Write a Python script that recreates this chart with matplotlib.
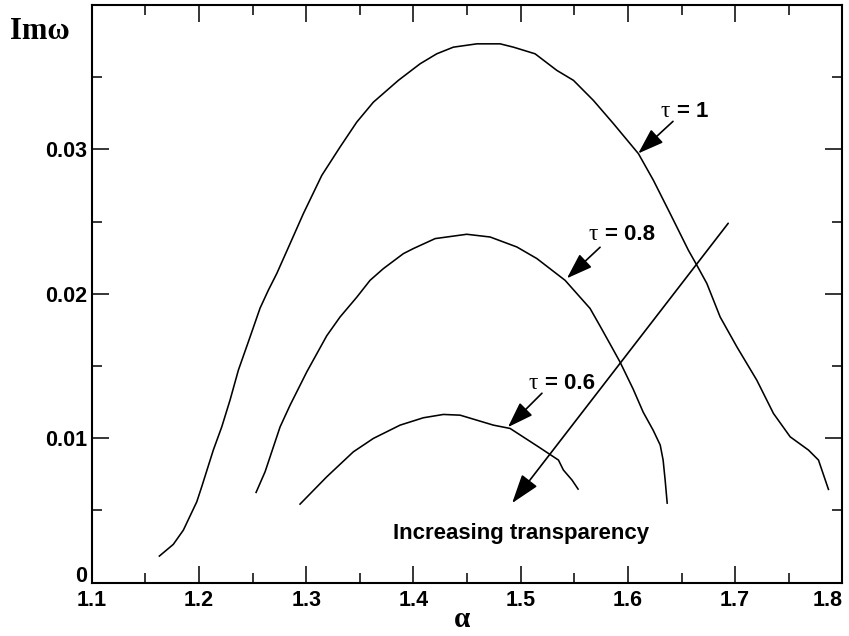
import numpy as np
import matplotlib
matplotlib.use("Agg")
import matplotlib.pyplot as plt
from matplotlib.ticker import MultipleLocator

# growth rate curves Im(omega) vs alpha, one per tau
alpha_t10 = [1.1630, 1.1760, 1.1854, 1.1979, 1.2025, 1.2133, 1.2212, 1.2289, 1.2367,
             1.2476, 1.2569, 1.2646, 1.2725, 1.2849, 1.2973, 1.3145, 1.3315, 1.3471,
             1.3626, 1.3859, 1.4062, 1.4217, 1.4372, 1.4591, 1.4808, 1.4932, 1.5134,
             1.5337, 1.5492, 1.5678, 1.5865, 1.6098, 1.6238, 1.6394, 1.6564, 1.6643,
             1.6736, 1.6860, 1.7016, 1.7202, 1.7357, 1.7513, 1.7684, 1.7777, 1.7870]
im_t10 = [0.00183, 0.00264, 0.00363, 0.00559, 0.00663, 0.00917, 0.01078, 0.01263, 0.01471,
          0.01701, 0.01900, 0.02024, 0.02140, 0.02347, 0.02555, 0.02820, 0.03016, 0.03189,
          0.03327, 0.03478, 0.03593, 0.03662, 0.03708, 0.03731, 0.03731, 0.03708, 0.03662,
          0.03547, 0.03478, 0.03339, 0.03178, 0.02970, 0.02785, 0.02555, 0.02301, 0.02197,
          0.02071, 0.01839, 0.01632, 0.01401, 0.01171, 0.01009, 0.00917, 0.00848, 0.00645]

alpha_t08 = [1.2532, 1.2616, 1.2756, 1.2849, 1.3005, 1.3191, 1.3315, 1.3471, 1.3595,
             1.3719, 1.3906, 1.3999, 1.4202, 1.4497, 1.4715, 1.4964, 1.5150, 1.5414,
             1.5647, 1.5741, 1.5834, 1.5927, 1.6049, 1.6142, 1.6235, 1.6301, 1.6328,
             1.6347, 1.6366]
im_t08 = [0.00624, 0.00767, 0.01078, 0.01228, 0.01459, 0.01709, 0.01839, 0.01976, 0.02093,
          0.02174, 0.02278, 0.02313, 0.02382, 0.02412, 0.02393, 0.02324, 0.02244, 0.02093,
          0.01898, 0.01775, 0.01651, 0.01526, 0.01339, 0.01180, 0.01055, 0.00952, 0.00848,
          0.00709, 0.00550]

alpha_t06 = [1.2942, 1.3191, 1.3439, 1.3626, 1.3875, 1.4092, 1.4279, 1.4435, 1.4745,
             1.4901, 1.5165, 1.5352, 1.5398, 1.5479, 1.5535]
im_t06 = [0.00543, 0.00732, 0.00905, 0.00998, 0.01090, 0.01141, 0.01164, 0.01159, 0.01090,
          0.01067, 0.00940, 0.00848, 0.00779, 0.00709, 0.00647]

x_ticklabels = ["1.1", "1.2", "1.3", "1.4", "1.5", "1.6", "1.7", "1.8"]
y_ticklabels = ["", "0.01", "0.02", "0.03"]

tau_labels = ["= 1", "= 0.8", "= 0.6"]
# label anchor (left edge of tau), arrow tail, arrow tip
label_pos = [(1.630, 0.03263), (1.563, 0.02412), (1.507, 0.01381)]
arrow_tail = [(1.642, 0.03194), (1.574, 0.02322), (1.5198, 0.01311)]
arrow_tip = [(1.6096, 0.02972), (1.5431, 0.02107), (1.4881, 0.01076)]

sans = "Liberation Sans"
serif = "Liberation Serif"

fig = plt.figure(figsize=(8.49, 6.36), dpi=100)
ax = fig.add_axes([91.8 / 849, 1 - 582.5 / 636, (842.4 - 91.8) / 849, (582.5 - 5) / 636])

for xs, ys in [(alpha_t10, im_t10), (alpha_t08, im_t08), (alpha_t06, im_t06)]:
    ax.plot(xs, ys, color="black", lw=1.15)

ax.set_xlim(1.1, 1.8)
ax.set_ylim(0, 0.04)
ax.set_xticks(np.round(np.arange(1.1, 1.81, 0.1), 2))
ax.set_xticklabels(x_ticklabels)
ax.xaxis.set_minor_locator(MultipleLocator(0.05))
ax.set_yticks([0, 0.01, 0.02, 0.03])
ax.set_yticklabels(y_ticklabels)
ax.yaxis.set_minor_locator(MultipleLocator(0.005))

ax.tick_params(which="both", direction="in", top=True, right=True, width=1.1)
ax.tick_params(which="major", length=12.5)
ax.tick_params(which="minor", length=7)
ax.tick_params(axis="x", pad=5.5)
ax.tick_params(axis="y", pad=3.2)
for lab in ax.get_xticklabels() + ax.get_yticklabels():
    lab.set_fontfamily(sans)
    lab.set_fontweight("bold")
    lab.set_fontsize(15.5)
# keep the last x label inside the figure
ax.get_xticklabels()[-1].set_horizontalalignment("right")
for sp in ax.spines.values():
    sp.set_linewidth(1.5)

# the zero label sits on its baseline at the axis corner
ax.annotate("0", xy=(0, 0), xycoords=("axes fraction", "data"), xytext=(-3.2, 0),
            textcoords="offset points", ha="right", va="baseline",
            family=sans, weight="bold", fontsize=15.5)

fig.text(10 / 849, 1 - 39 / 636, "Imω", family=serif, weight="bold", fontsize=22,
         va="baseline", ha="left")
fig.text(462 / 849, 1 - 627 / 636, "α", family=serif, weight="bold", fontsize=21,
         va="baseline", ha="center")

arrow_style = "-|>,head_length=1.6,head_width=0.55"
for lab, pos, tail, tip in zip(tau_labels, label_pos, arrow_tail, arrow_tip):
    ax.text(pos[0], pos[1], "τ", family=serif, fontsize=17, ha="left", va="center")
    ax.annotate(lab, xy=pos, xytext=(12, 0), textcoords="offset points",
                family=sans, weight="bold", fontsize=16, ha="left", va="center")
    ax.annotate("", xy=tip, xytext=tail,
                arrowprops=dict(arrowstyle=arrow_style, color="black", lw=1.2,
                                shrinkA=0, shrinkB=0, mutation_scale=10))

ax.annotate("", xy=(1.492, 0.0055), xytext=(1.6935, 0.02488),
            arrowprops=dict(arrowstyle="-|>,head_length=1.8,head_width=0.6",
                            color="black", lw=1.2, shrinkA=0, shrinkB=0,
                            mutation_scale=10))
ax.text(1.381, 0.00336, "Increasing transparency", family=sans, weight="bold",
        fontsize=16, ha="left", va="center")

fig.savefig("out.png", dpi=100)
